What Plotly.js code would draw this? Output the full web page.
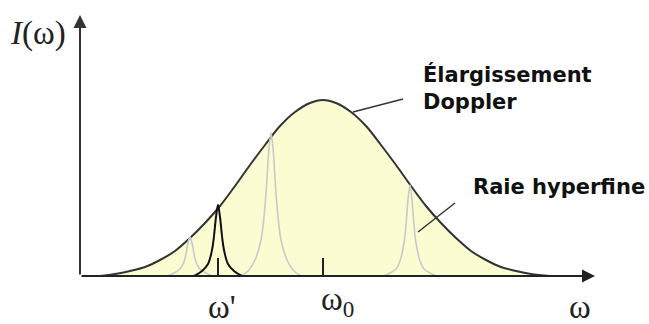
<!DOCTYPE html>
<html>
<head>
<meta charset="utf-8">
<script src="https://cdn.plot.ly/plotly-3.0.1.min.js"></script>
<style>
  html, body { margin: 0; padding: 0; background: #fff; }
  #plot { width: 649px; height: 324px; }
</style>
</head>
<body>
<div id="plot"></div>
<script>
// Doppler profile (arbitrary units)
var omega   = [20, 35, 50, 65, 80, 95, 110, 125, 140, 155, 170, 185, 200, 215, 230, 243, 256, 271, 286, 301, 316, 331, 346, 361, 376, 391, 406, 421, 436, 451, 470];
var doppler = [0, 2, 5, 9, 16, 25, 38, 53, 70, 90, 111, 131, 150, 164, 173, 176, 173, 164, 150, 131, 111, 90, 70, 53, 38, 25, 16, 9, 5, 2, 0];

// hyperfine lines
var line1X = [88, 94, 100, 104, 106, 108, 110, 112, 114, 116, 120, 126, 132];
var line1Y = [0, 3, 7, 14, 22, 33, 39, 33, 22, 14, 7, 3, 0];
var lineWX = [114, 122, 128, 132, 134, 136, 138, 140, 142, 144, 148, 154, 162];   // omega'
var lineWY = [0, 5, 12, 26, 40, 59, 71, 59, 40, 26, 12, 5, 0];
var line3X = [161, 169, 175, 181, 185, 187, 189, 191, 193, 195, 197, 201, 207, 213, 221];
var line3Y = [0, 6, 16, 36, 70, 98, 128, 143, 128, 98, 70, 36, 16, 6, 0];
var line4X = [304, 310, 316, 320, 324, 326, 328, 330, 332, 334, 336, 340, 344, 350, 356];
var line4Y = [0, 3, 7, 15, 33, 51, 76, 91, 76, 51, 33, 15, 7, 3, 0];

// small ticks on the frequency axis
var tickPos = [138, 243];
var tickLen = 18;
var tickText = ["ω'", "ω<sub>0</sub>"];

// axis extents
var xMax = 515, yMax = 261;

// callout lines [x0, y0, x1, y1]
var dopplerCallout = [273, 164, 323, 177];
var hyperCallout = [338, 44, 375, 73];

var grey = "#c9c9c9";

var traces = [
  {
    x: omega, y: doppler, type: "scatter", mode: "lines",
    fill: "tozeroy", fillcolor: "#fcfcd2",
    line: { color: "#333", width: 2, shape: "spline", smoothing: 1 }
  },
  { x: line1X, y: line1Y, type: "scatter", mode: "lines", line: { color: grey, width: 1.6, shape: "spline" } },
  { x: line3X, y: line3Y, type: "scatter", mode: "lines", line: { color: grey, width: 1.6, shape: "spline" } },
  { x: line4X, y: line4Y, type: "scatter", mode: "lines", line: { color: grey, width: 1.6, shape: "spline" } },
  { x: lineWX, y: lineWY, type: "scatter", mode: "lines", line: { color: "#111", width: 2, shape: "spline" } }
];

// the two tick marks
tickPos.forEach(function (p) {
  traces.push({
    x: [p, p], y: [0, tickLen], type: "scatter", mode: "lines",
    line: { color: "#222", width: 2 }
  });
});

var serif = { family: "Liberation Serif, serif", size: 33, color: "#222" };
var bold = { family: "DejaVu Sans, sans-serif", size: 21, color: "#111", weight: "bold" };

// paper position helpers for labels outside the plot area
function px(v) { return v / xMax; }
function py(v) { return v / yMax; }

function label(x, y, text) {
  return { x: px(x), y: py(y), xref: "paper", yref: "paper", xanchor: "center", yanchor: "middle",
    text: text, showarrow: false, font: serif };
}

var annotations = [
  // axes with arrows
  { x: xMax, y: 0, ax: 0, ay: 0, axref: "x", ayref: "y", xref: "x", yref: "y", text: "",
    showarrow: true, arrowhead: 2, arrowsize: 1.3, arrowwidth: 2, arrowcolor: "#222", standoff: 0 },
  { x: 0, y: yMax, ax: 0, ay: 0, axref: "x", ayref: "y", xref: "x", yref: "y", text: "",
    showarrow: true, arrowhead: 2, arrowsize: 1.3, arrowwidth: 2, arrowcolor: "#333", standoff: 0 },
  // labels
  label(-42, 243, "<i>I</i>(ω)"),
  label(tickPos[0] + 4, -31, tickText[0]),
  label(tickPos[1] + 14, -25, tickText[1]),
  label(500, -31, "ω"),
  { x: 341, y: 216, xref: "x", yref: "y", text: "Élargissement<br>Doppler", align: "left",
    xanchor: "left", yanchor: "top", showarrow: false, font: bold },
  { x: 391, y: 89, xref: "x", yref: "y", text: "Raie hyperfine", xanchor: "left",
    showarrow: false, font: bold }
];

var shapes = [dopplerCallout, hyperCallout].map(function (c) {
  return { type: "line", xref: "x", yref: "y", x0: c[0], y0: c[1], x1: c[2], y1: c[3],
    line: { color: "#333", width: 1.5 } };
});

var layout = {
  width: 649, height: 324,
  margin: { l: 80, r: 54, t: 15, b: 48 },
  paper_bgcolor: "#fff", plot_bgcolor: "rgba(0,0,0,0)",
  showlegend: false, hovermode: false,
  xaxis: { range: [0, xMax], showgrid: false, zeroline: false, showticklabels: false, showline: false, fixedrange: true },
  yaxis: { range: [0, yMax], showgrid: false, zeroline: false, showticklabels: false, showline: false, fixedrange: true },
  annotations: annotations,
  shapes: shapes
};

Plotly.newPlot("plot", traces, layout, { displayModeBar: false, staticPlot: true });
</script>
</body>
</html>
